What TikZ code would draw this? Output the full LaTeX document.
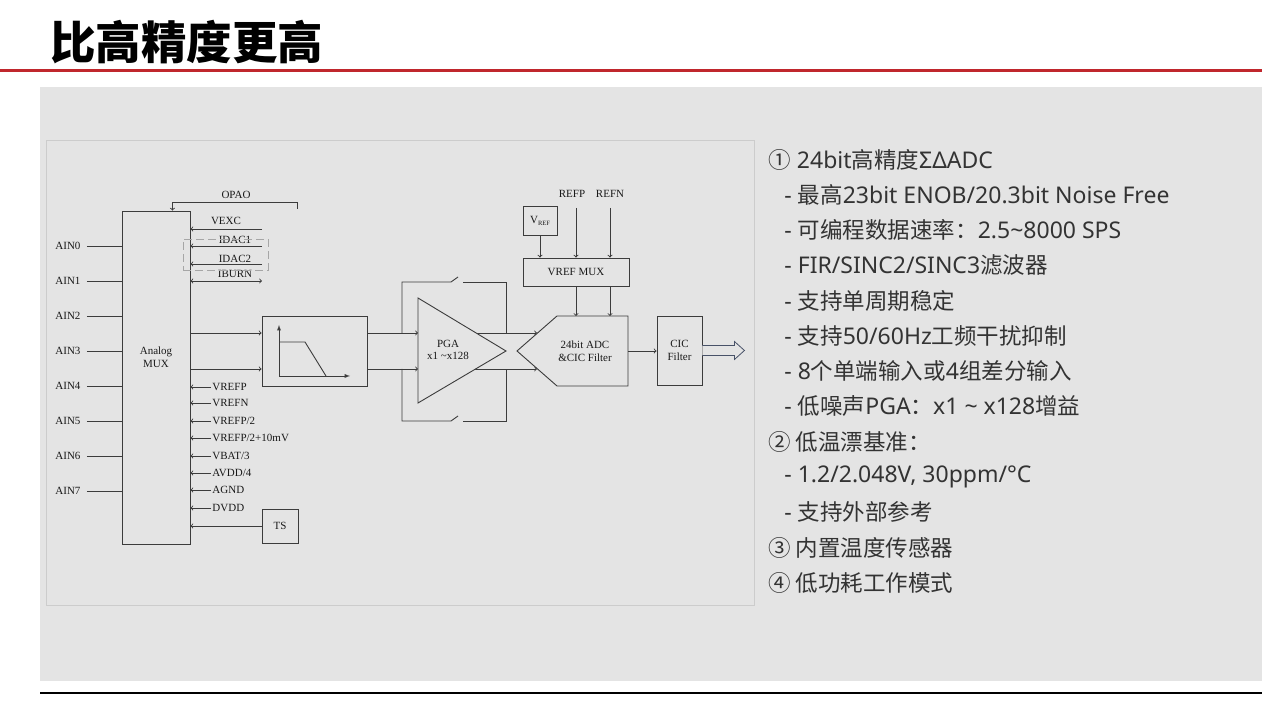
\documentclass[tikz,border=0pt]{standalone}
\usepackage{fontspec}
\setmainfont{Liberation Serif}
\newfontfamily\cjk{Noto Sans CJK SC}
\newfontfamily\latin{Noto Sans}
\newcommand\zh[1]{{\cjk\fontsize{22.5}{24}\selectfont #1}}
\usetikzlibrary{positioning}
\definecolor{panel}{RGB}{228,228,228}
\definecolor{framecol}{RGB}{204,204,204}
\definecolor{barred}{RGB}{192,39,45}
\definecolor{wirecol}{RGB}{60,60,60}
\definecolor{buscol}{RGB}{72,82,104}

\begin{document}
\begin{tikzpicture}[x=1pt, y=1pt, line width=0.9pt, color=wirecol,
  lbl/.style={inner sep=0pt, text=black!90, font=\fontsize{11}{12.5}\selectfont},
  blk/.style={draw, fill=panel, text=black!90, align=center, inner sep=0pt,
    font=\fontsize{11}{12.5}\selectfont},
  item/.style={anchor=west, inner sep=0pt, text=black!80,
    font=\latin\fontsize{23}{24}\selectfont}]
 \useasboundingbox (0,0) rectangle (1267,703);
 \fill[white] (0,0) rectangle (1267,703);
 \fill[panel] (40,22) rectangle (1262,616);
 \draw[framecol] (46,98) rectangle (754,563);
 \draw[barred, line width=3pt] (0,632) -- (1262,632);
 \draw[black, line width=1.2pt] (40,10) -- (1262,10);
 \node[anchor=west, inner sep=0pt, text=black,
   font=\cjk\bfseries\fontsize{45.5}{48}\selectfont] (title) at (50,661) {比高精度更高};

 % analog mux and its inputs
 \node[blk, minimum width=68, minimum height=333] (mux) at (156,325.5) {};
 \node[lbl, align=center] (muxlbl) at (156,346) {Analog\\MUX};
 \node[lbl, anchor=west] (ain0) at (55,457) {AIN0};
 \node[lbl, anchor=west] (ain1) at (55,422) {AIN1};
 \node[lbl, anchor=west] (ain2) at (55,387) {AIN2};
 \node[lbl, anchor=west] (ain3) at (55,352) {AIN3};
 \node[lbl, anchor=west] (ain4) at (55,317) {AIN4};
 \node[lbl, anchor=west] (ain5) at (55,282) {AIN5};
 \node[lbl, anchor=west] (ain6) at (55,247) {AIN6};
 \node[lbl, anchor=west] (ain7) at (55,212) {AIN7};
 \draw ([xshift=6]ain0.east) -- (ain0 -| mux.west);
 \draw ([xshift=6]ain1.east) -- (ain1 -| mux.west);
 \draw ([xshift=6]ain2.east) -- (ain2 -| mux.west);
 \draw ([xshift=6]ain3.east) -- (ain3 -| mux.west);
 \draw ([xshift=6]ain4.east) -- (ain4 -| mux.west);
 \draw ([xshift=6]ain5.east) -- (ain5 -| mux.west);
 \draw ([xshift=6]ain6.east) -- (ain6 -| mux.west);
 \draw ([xshift=6]ain7.east) -- (ain7 -| mux.west);

 \node[lbl] (opao) at (236,508) {OPAO};
 \coordinate (opaoout) at (297,494);
 \draw[->] (opaoout) -- ++(0,7) -| ([xshift=-18]mux.north east);

 \node[lbl] (vexc) at (226,482) {VEXC};
 \node[lbl] (idac1) at (235,463) {IDAC1};
 \node[lbl] (idac2) at (235,444) {IDAC2};
 \node[lbl] (iburn) at (235,429) {IBURN};
 \coordinate (vexcin) at (262,474);
 \coordinate (idac1in) at (262,457);
 \coordinate (idac2in) at (262,439);
 \coordinate (iburnin) at (262,422);
 \draw[->] (vexcin) -- (vexcin -| mux.east);
 \draw[->] (idac1in) -- (idac1in -| mux.east);
 \draw[->] (idac2in) -- (idac2in -| mux.east);
 \draw[<->] (iburnin) -- (iburnin -| mux.east);
 \node[draw=gray!70, dash pattern=on 8pt off 4pt, line width=0.8pt, inner sep=0pt,
   minimum width=85, minimum height=31] (idac) at (225.5,448.5) {};

 \node[lbl, anchor=west] (vrefp) at (212,316) {VREFP};
 \node[lbl, anchor=west] (vrefn) at (212,300) {VREFN};
 \node[lbl, anchor=west] (vhalf) at (212,282) {VREFP/2};
 \node[lbl, anchor=west] (vhalfp) at (212,265) {VREFP/2+10mV};
 \node[lbl, anchor=west] (vbat) at (212,247) {VBAT/3};
 \node[lbl, anchor=west] (avdd) at (212,230) {AVDD/4};
 \node[lbl, anchor=west] (agnd) at (212,213) {AGND};
 \node[lbl, anchor=west] (dvdd) at (212,195) {DVDD};
 \draw[->] ([xshift=-1]vrefp.west) -- (vrefp.west -| mux.east);
 \draw[->] ([xshift=-1]vrefn.west) -- (vrefn.west -| mux.east);
 \draw[->] ([xshift=-1]vhalf.west) -- (vhalf.west -| mux.east);
 \draw[->] ([xshift=-1]vhalfp.west) -- (vhalfp.west -| mux.east);
 \draw[->] ([xshift=-1]vbat.west) -- (vbat.west -| mux.east);
 \draw[->] ([xshift=-1]avdd.west) -- (avdd.west -| mux.east);
 \draw[->] ([xshift=-1]agnd.west) -- (agnd.west -| mux.east);
 \draw[->] ([xshift=-1]dvdd.west) -- (dvdd.west -| mux.east);
 \node[blk, minimum width=36, minimum height=34] (ts) at (280,177) {TS};
 \draw[->] (ts.west) -- (ts.west -| mux.east);

 % low pass filter
 \node[blk, minimum width=105, minimum height=70] (lpf) at (314.5,352) {};
 \draw[->] ([yshift=18]lpf.west -| mux.east) -- ([yshift=18]lpf.west);
 \draw[->] ([yshift=-18]lpf.west -| mux.east) -- ([yshift=-18]lpf.west);
 \coordinate (org) at ([xshift=-35.5,yshift=-25]lpf.center);
 \draw[-latex] (org) -- ++(0,51);
 \draw[-latex] (org) -- ++(71,0);
 \draw (org) ++(0,34) -- ++(26,0) -- ++(21,-34);

 % pga with switched bypass
 \coordinate (pgatop) at (418,405);
 \coordinate (pgabot) at (418,300);
 \coordinate (pgaout) at (506,352);
 \coordinate (adcp) at (537,370);
 \coordinate (adcn) at (537,334);
 \coordinate (fbl) at (402,352);
 \coordinate (fbr) at (506,352);
 \coordinate (swt) at (451,421);
 \coordinate (swb) at (451,282);
 \draw (fbl |- adcp) |- (swt) -- ++(7,5);
 \draw ([xshift=12]swt) -| (fbr |- adcp);
 \draw (fbl |- adcn) |- (swb) -- ++(7,5);
 \draw ([xshift=12]swb) -| (fbr |- adcn);
 \draw[->] (adcp -| pgatop) -- (adcp);
 \draw[->] (adcn -| pgatop) -- (adcn);
 \filldraw[fill=panel] (pgatop) -- (pgaout) -- (pgabot) -- cycle;
 \node[lbl, align=center] (pga) at (448,353) {PGA\\x1 \textasciitilde x128};
 \draw[->] ([yshift=18]lpf.east) -- ([yshift=18]lpf.east -| pgatop);
 \draw[->] ([yshift=-18]lpf.east) -- ([yshift=-18]lpf.east -| pgatop);

 % adc, reference and output filter
 \coordinate (adcin) at (517,352);
 \coordinate (adctop) at (585,387);
 \coordinate (adcout) at (628,352);
 \filldraw[fill=panel] (adcin) -- (557,387) -- (628,387) -- (628,317) -- (557,317) -- cycle;
 \node[lbl, align=center] (adc) at (585,352) {24bit ADC\\\&CIC Filter};
 \node[blk, minimum width=106, minimum height=28] (vmux) at (576,431) {VREF MUX};
 \draw[->] (vmux.south) -- (vmux.south |- adctop);
 \draw[->] ([xshift=34]vmux.south) -- ([xshift=34]vmux.south |- adctop);
 \node[blk, minimum width=34, minimum height=29] (vref) at (540,482.5)
   {V\raisebox{-0.4ex}{\fontsize{6.5}{6.5}\selectfont REF}};
 \draw[->] (vref.south) -- (vref.south |- vmux.north);
 \node[lbl] (refp) at (572,509) {REFP};
 \node[lbl] (refn) at (610,509) {REFN};
 \coordinate (refpin) at (576,495);
 \coordinate (refnin) at (610,495);
 \draw[->] (refpin) -- (refpin |- vmux.north);
 \draw[->] (refnin) -- (refnin |- vmux.north);
 \node[blk, minimum width=45, minimum height=69] (cic) at (679.5,352.5) {CIC\\Filter};
 \draw[->] (adcout) -- (adcout -| cic.west);
 \draw[buscol, fill=panel, line width=0.8pt] (cic.east) ++(0,5) -- ++(32,0) -- ++(0,4)
   -- ++(10,-9) -- ++(-10,-9) -- ++(0,4) -- ++(-32,0);

 % feature list
 \node[item] (f1) at (768,543) {\zh{①} 24bit\zh{高精度}ΣΔADC};
 \node[item] (f1a) at (784,508) {- \zh{最高}23bit ENOB/20.3bit Noise Free};
 \node[item] (f1b) at (784,473) {- \zh{可编程数据速率：}2.5\textasciitilde 8000 SPS};
 \node[item] (f1c) at (784,438) {- FIR/SINC2/SINC3\zh{滤波器}};
 \node[item] (f1d) at (784,402) {- \zh{支持单周期稳定}};
 \node[item] (f1e) at (784,367) {- \zh{支持}50/60Hz\zh{工频干扰抑制}};
 \node[item] (f1f) at (784,332) {- 8\zh{个单端输入或}4\zh{组差分输入}};
 \node[item] (f1g) at (784,297) {- \zh{低噪声}PGA\zh{：}x1 \textasciitilde{} x128\zh{增益}};
 \node[item] (f2) at (768,261) {\zh{② 低温漂基准：}};
 \node[item] (f2a) at (784,226) {- 1.2/2.048V, 30ppm/°C};
 \node[item] (f2b) at (784,191) {- \zh{支持外部参考}};
 \node[item] (f3) at (768,155) {\zh{③ 内置温度传感器}};
 \node[item] (f4) at (768,120) {\zh{④ 低功耗工作模式}};
\end{tikzpicture}
\end{document}
